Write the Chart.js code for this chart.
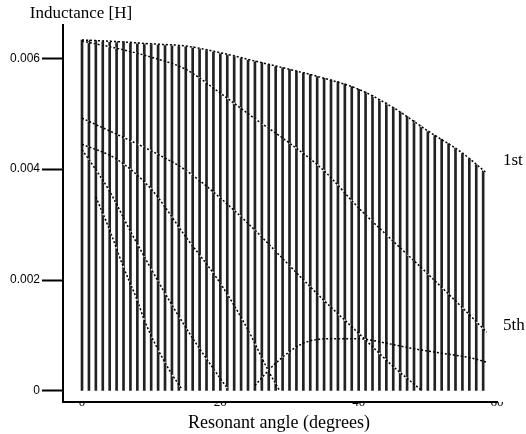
<!DOCTYPE html>
<html><head><meta charset="utf-8">
<script src="https://cdn.jsdelivr.net/npm/chart.js@4.4.1/dist/chart.umd.min.js"></script>
<style>html,body{margin:0;padding:0;background:#fff}canvas{display:block}</style>
</head><body>
<canvas id="c" width="526" height="434"></canvas>
<script>
// ---- data ----
const barAngles = [0,1,2,3,4,5,6,7,8,9,10,11,12,13,14,15,16,17,18,19,20,21,22,23,24,25,26,27,28,29,30,31,32,33,34,35,36,37,38,39,40,41,42,43,44,45,46,47,48,49,50,51,52,53,54,55,56,57,58];
const barTops = [0.00633,0.00633,0.00632,0.00632,0.00631,0.00630,0.00630,0.00629,0.00628,0.00627,0.00626,0.00625,0.00625,0.00624,0.00623,0.00622,0.00621,0.00618,0.00616,0.00613,0.00610,0.00607,0.00604,0.00601,0.00598,0.00595,0.00592,0.00589,0.00586,0.00583,0.00580,0.00577,0.00574,0.00571,0.00567,0.00564,0.00561,0.00558,0.00554,0.00549,0.00544,0.00539,0.00533,0.00526,0.00519,0.00511,0.00503,0.00495,0.00487,0.00478,0.00469,0.00461,0.00454,0.00446,0.00438,0.00429,0.00419,0.00408,0.00397];

const envAngles = [0,5,10,15,20,25,30,35,40,45,50,55,58.5];
const envValues = [0.00633,0.00630,0.00626,0.00622,0.00610,0.00595,0.00580,0.00564,0.00544,0.00511,0.00469,0.00429,0.00393];

const curveAAngles = [0,5,10,15,20,25,30,35,40,45,50,55,58.5];
const curveAValues = [0.00631,0.00618,0.00602,0.00580,0.00537,0.00491,0.00447,0.00397,0.00330,0.00270,0.00211,0.00150,0.00106];

const curveBAngles = [0,5,10,15,20,25,30,35,40,45,49];
const curveBValues = [0.00492,0.00463,0.00433,0.00398,0.00348,0.00290,0.00226,0.00163,0.00104,0.00044,0.00002];

const curveCAngles = [0,5,10,15,20,24,27,28.5];
const curveCValues = [0.00445,0.00418,0.00364,0.00278,0.00194,0.00110,0.00035,0.00002];

const curveDAngles = [0,2,4,7,10,13,16,19,21];
const curveDValues = [0.00435,0.00399,0.00360,0.00288,0.00220,0.00155,0.00095,0.00040,0.00005];

const curveEAngles = [2,4,6,8,9,11,13,14.5];
const curveEValues = [0.00350,0.00290,0.00223,0.00163,0.00128,0.00074,0.00030,0.00002];

const humpAngles = [25,28,32,36,40,44,48,52,56,58.5];
const humpValues = [0.00010,0.00050,0.00086,0.00094,0.00094,0.00086,0.00076,0.00068,0.00060,0.00052];

const xTickValues = [0,20,40,60];
const yTickValues = [0,0.002,0.004,0.006];
const yTickLabels = ['0','0.002','0.004','0.006'];

// ---- build chart ----
const pts = (xs, ys) => xs.map((x, i) => ({x, y: ys[i]}));
const curves = [
  [envAngles, envValues],
  [curveAAngles, curveAValues],
  [curveBAngles, curveBValues],
  [curveCAngles, curveCValues],
  [curveDAngles, curveDValues],
  [curveEAngles, curveEValues],
  [humpAngles, humpValues]
];
const datasets = [{
  type: 'bar',
  data: pts(barAngles, barTops),
  backgroundColor: '#222',
  borderWidth: 0,
  barThickness: 2,
  order: 3
}];
curves.forEach(([xs, ys]) => {
  datasets.push({type:'line', data: pts(xs, ys), borderColor:'rgba(255,255,255,0.85)', borderWidth:1.5,
    borderDash:[3,4], borderDashOffset:3, pointRadius:0, cubicInterpolationMode:'monotone', fill:false, order:2});
  datasets.push({type:'line', data: pts(xs, ys), borderColor:'#000', borderWidth:1.5,
    borderDash:[2,2], pointRadius:0, cubicInterpolationMode:'monotone', fill:false, order:1});
});

const textPlugin = {
  id: 'texts',
  afterDraw(chart) {
    const ctx = chart.ctx;
    ctx.save();
    ctx.fillStyle = '#000';
    ctx.textBaseline = 'middle';
    ctx.font = '17px "Liberation Serif"';
    ctx.textAlign = 'center';
    ctx.fillText('Inductance [H]', 81, 14);
    ctx.font = '18px "Liberation Serif"';
    ctx.fillText('Resonant angle (degrees)', 279, 423);
    ctx.textAlign = 'left';
    ctx.font = '17px "Liberation Serif"';
    ctx.fillText('1st', 503, 161);
    ctx.fillText('5th', 503, 326);
    ctx.restore();
  }
};

new Chart(document.getElementById('c'), {
  data: { datasets },
  options: {
    responsive: false,
    animation: false,
    devicePixelRatio: 1,
    layout: { padding: { top: 25, right: 29, left: 0, bottom: 0 } },
    plugins: { legend: { display: false }, tooltip: { enabled: false } },
    scales: {
      x: {
        type: 'linear',
        offset: false,
        min: -2.75,
        max: 60,
        afterBuildTicks: s => { s.ticks = xTickValues.map(v => ({value: v})); },
        afterFit: s => { s.height = 32; },
        grid: { display: true, offset: false, drawOnChartArea: false, drawTicks: false },
        border: { display: true, color: '#000', width: 2 },
        ticks: { padding: -7, color: '#000', maxRotation: 0, autoSkip: false,
          font: { family: 'Liberation Serif', size: 13 },
          callback: v => String(v) }
      },
      y: {
        type: 'linear',
        min: -0.0002,
        max: 0.0066,
        afterBuildTicks: s => { s.ticks = yTickValues.map(v => ({value: v})); },
        afterFit: s => { s.width = 63; },
        grid: { display: true, drawOnChartArea: false, drawTicks: true, tickLength: 21, tickWidth: 2, tickColor: '#000' },
        border: { display: true, color: '#000', width: 2 },
        ticks: { padding: 2, color: '#000', autoSkip: false,
          font: { family: 'Liberation Sans', size: 12 },
          callback: (v) => { const i = yTickValues.indexOf(v); return i >= 0 ? yTickLabels[i] : ''; } }
      }
    }
  },
  plugins: [textPlugin]
});
</script>
</body></html>
